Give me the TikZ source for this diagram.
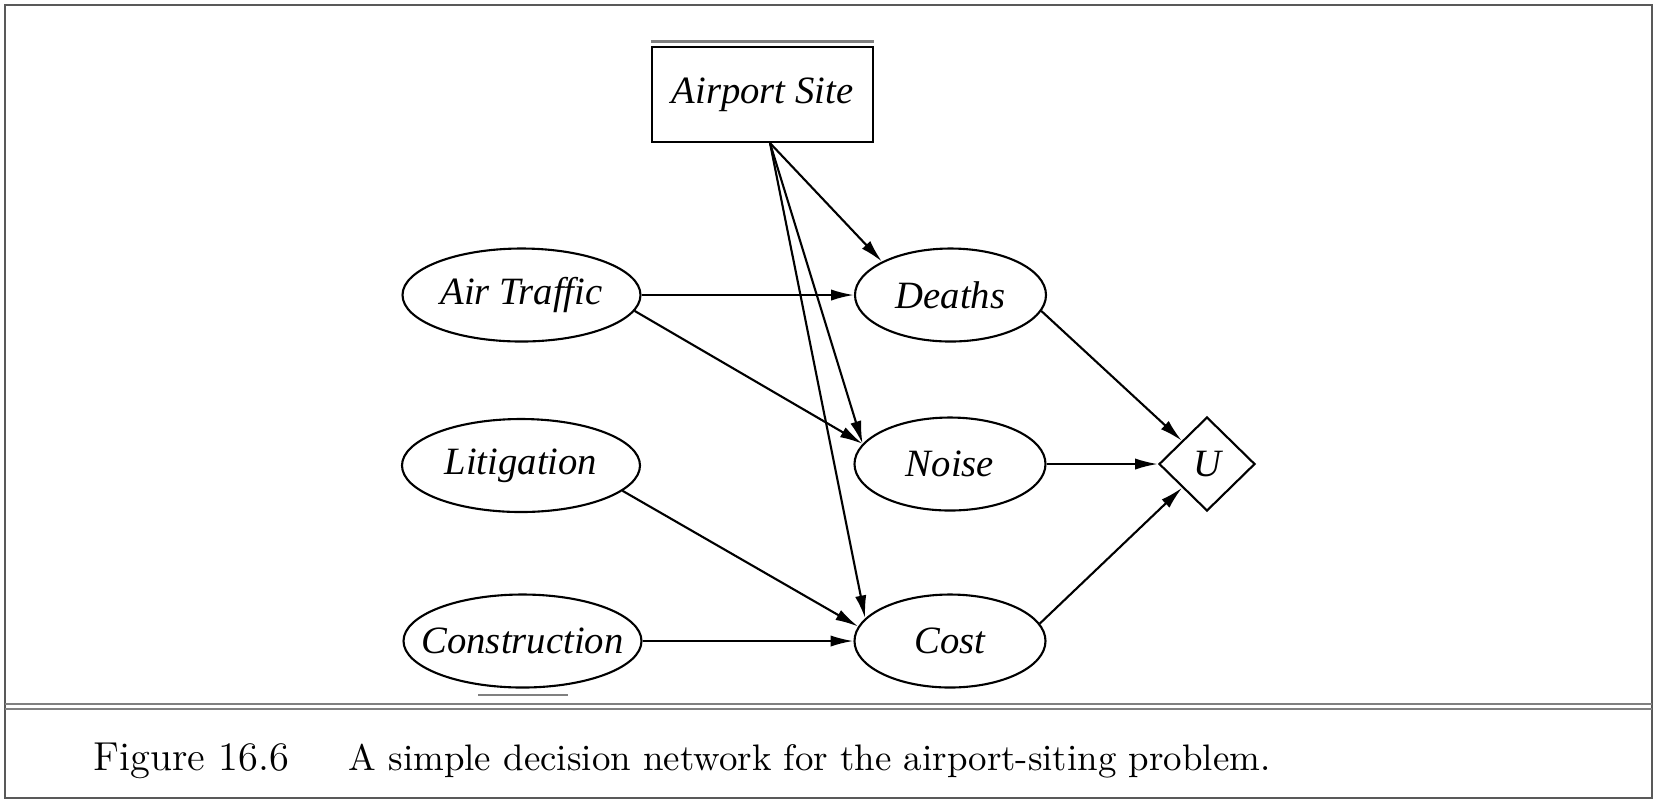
\documentclass[tikz,border=0pt]{standalone}
\usepackage{fontspec}
\newfontfamily\labelfont{Liberation Serif}
\usetikzlibrary{shapes.geometric,arrows.meta}
\begin{document}
\begin{tikzpicture}
    [chance/.style={ellipse, draw, line width=0.6pt, minimum width=1.91cm, minimum height=0.93cm, inner xsep=-0.3cm, inner ysep=-0.1cm, font=\labelfont\itshape\fontsize{11}{13}\selectfont},
     wide/.style={chance, minimum width=2.38cm},
     decision/.style={chance, rectangle, inner sep=0pt, minimum width=2.21cm, minimum height=0.95cm},
     utility/.style={chance, diamond, inner sep=0pt, minimum width=0.96cm, minimum height=0.94cm},
     link/.style={-{Latex[length=6.5pt,width=3.2pt]}, line width=0.6pt},
     frame/.style={draw=black!65, line width=0.8pt},
     trace/.style={draw=black!50, line width=0.9pt}]
    \useasboundingbox (0,0) rectangle (16.59,-8.04);
    \draw[frame] (0.05,-0.05) rectangle (16.52,-7.98);
    \draw[trace, line width=0.6pt] (0.05,-7.043) -- (16.52,-7.043) (0.05,-7.093) -- (16.52,-7.093);
    \node[decision] (site) at (7.625,-0.945) {Airport Site};
    \node[wide] (traffic) at (5.215,-2.95) {Air Traffic};
    \node[wide] (litigation) at (5.21,-4.655) {Litigation};
    \node[wide] (construction) at (5.225,-6.41) {Construction};
    \node[chance] (deaths) at (9.505,-2.95) {Deaths};
    \node[chance] (noise) at (9.5,-4.64) {Noise};
    \node[chance] (cost) at (9.5,-6.41) {Cost};
    \node[utility] (u) at (12.07,-4.64) {U};
    \coordinate (fan) at ([xshift=0.075cm]site.south);
    \draw[trace] ([yshift=0.045cm]site.north west) -- ([yshift=0.045cm]site.north east);
    \draw[trace, line width=0.6pt] ([xshift=-0.445cm, yshift=-0.06cm]construction.south) -- ++(0.9,0);
    \draw[link] (fan) -- (deaths.154);
    \draw[link] (fan) -- (noise.167);
    \draw[link] (fan) -- (cost.165);
    \draw[link] (traffic.east) -- (deaths.west);
    \draw[link] (traffic.-8) -- (noise.167);
    \draw[link] (litigation.-14) -- (cost.171);
    \draw[link] (construction) -- (cost);
    \draw[link] (deaths.-10) -- (u);
    \draw[link] (noise) -- (u);
    \draw[link] (cost.11) -- (u);
    \node[anchor=base west, inner sep=0pt, font=\fontsize{11.5}{14}\selectfont] (fignum) at (0.93,-7.70) {Figure 16.6};
    \node[anchor=base west, inner sep=0pt, font=\fontsize{10.5}{13}\selectfont] (caption) at (3.48,-7.70) {A simple decision network for the airport-siting problem.};
\end{tikzpicture}
\end{document}
